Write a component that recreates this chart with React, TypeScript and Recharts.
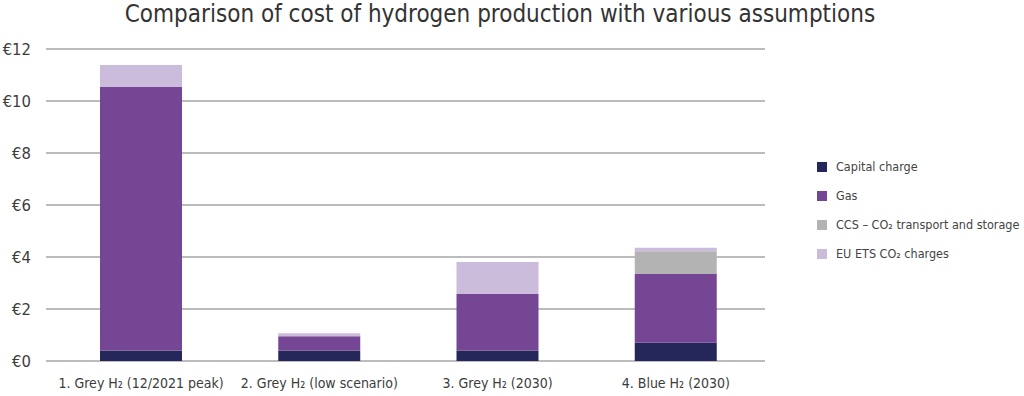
import { Bar, BarChart, CartesianGrid, XAxis, YAxis } from "recharts";

const categories = [
  "1. Grey H₂ (12/2021 peak)",
  "2. Grey H₂ (low scenario)",
  "3. Grey H₂ (2030)",
  "4. Blue H₂ (2030)",
];
const capitalCharge = [0.4, 0.4, 0.4, 0.7];
const gas = [10.14, 0.55, 2.18, 2.65];
const ccs = [0, 0, 0, 0.87];
const euEts = [0.84, 0.12, 1.23, 0.14];
const yTicks = [0, 2, 4, 6, 8, 10, 12];

const seriesInfo = [
  { key: "capital", name: "Capital charge", color: "#25265a" },
  { key: "gas", name: "Gas", color: "#744694" },
  { key: "ccs", name: "CCS – CO₂ transport and storage", color: "#b3b3b3" },
  { key: "ets", name: "EU ETS CO₂ charges", color: "#cbbcdc" },
];

const data = categories.map((name, i) => ({
  name,
  capital: capitalCharge[i],
  gas: gas[i],
  ccs: ccs[i],
  ets: euEts[i],
}));

const FONT = "'DejaVu Sans Condensed', 'DejaVu Sans', sans-serif";
const TEXT = "#3c3c3c";

function YTick({ y, payload }: any) {
  return (
    <text x={31} y={y} dy={6} textAnchor="end" fontSize={16.5} fill={TEXT} fontFamily={FONT}>
      €{payload.value}
    </text>
  );
}

function XTick({ x, payload }: any) {
  return (
    <text x={x} y={388} textAnchor="middle" fontSize={14} fill={TEXT} fontFamily={FONT}>
      {payload.value}
    </text>
  );
}

export default function App() {
  return (
    <div style={{ position: "absolute", left: 0, top: 0, width: 1024, height: 396, background: "#fff" }}>
      <div
        style={{
          position: "absolute",
          left: 0,
          top: 0,
          width: 1000,
          textAlign: "center",
          fontFamily: FONT,
          fontSize: 24,
          color: "#333",
        }}
      >
        Comparison of cost of hydrogen production with various assumptions
      </div>
      <BarChart
        width={1024}
        height={396}
        data={data}
        margin={{ top: 49, right: 259, bottom: 0, left: 0 }}
        barSize={82}
      >
        <CartesianGrid vertical={false} stroke="#a6a6a6" strokeWidth={1.5} />
        <XAxis
          dataKey="name"
          height={35}
          axisLine={false}
          tickLine={false}
          tick={<XTick />}
          interval={0}
          padding={{ left: 6, right: 0 }}
        />
        <YAxis
          width={46}
          domain={[0, 12]}
          ticks={yTicks}
          axisLine={false}
          tickLine={false}
          tick={<YTick />}
        />
        {seriesInfo.map((s) => (
          <Bar
            key={s.key}
            dataKey={s.key}
            name={s.name}
            stackId="cost"
            fill={s.color}
            isAnimationActive={false}
          />
        ))}
      </BarChart>
      <div
        style={{
          position: "absolute",
          left: 817,
          top: 152,
          fontFamily: FONT,
          fontSize: 12.5,
          color: "#444",
        }}
      >
        {seriesInfo.map((s) => (
          <div key={s.key} style={{ display: "flex", alignItems: "center", height: 29 }}>
            <span style={{ width: 10, height: 10, background: s.color, marginRight: 9 }} />
            <span>{s.name}</span>
          </div>
        ))}
      </div>
    </div>
  );
}
